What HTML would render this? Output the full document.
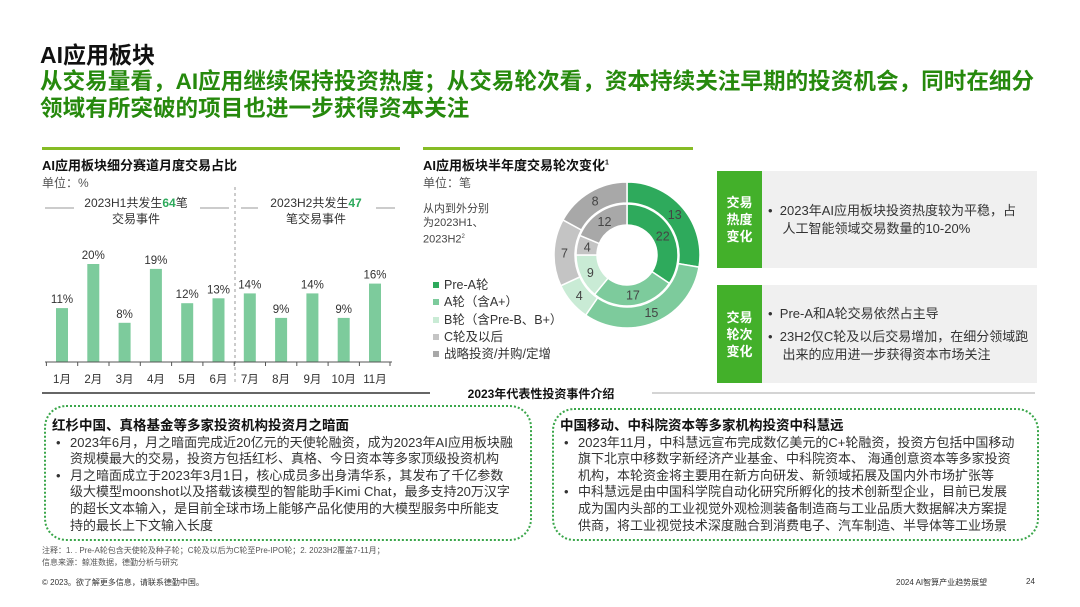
<!DOCTYPE html>
<html><head><meta charset="utf-8"><style>
body{margin:0;width:1080px;height:607px;overflow:hidden;background:#fff;font-family:"Liberation Sans","Noto Sans CJK SC",sans-serif;color:#222;position:relative}
.a{position:absolute;white-space:nowrap}
.g{color:#26890d}
.box{position:absolute;border:2px dotted #3aa64a;border-radius:22px}
.bt{font-size:13px;line-height:16.6px;color:#333}
.bt b{color:#111}
.li{padding-left:18px;position:relative}
.li:before{content:"•";position:absolute;left:4px}
</style></head><body>
<div class="a" style="left:40px;top:36px;font-size:23px;font-weight:bold;color:#111">AI应用板块</div>
<div class="a g" style="left:40px;top:68px;font-size:22.6px;font-weight:bold;line-height:27px">从交易量看，AI应用继续保持投资热度；从交易轮次看，资本持续关注早期的投资机会，同时在细分<br>领域有所突破的项目也进一步获得资本关注</div>

<div class="a" style="left:42px;top:147px;width:358px;height:3px;background:#86bc25"></div>
<div class="a" style="left:423px;top:147px;width:270px;height:3px;background:#86bc25"></div>
<div class="a" style="left:42px;top:155px;font-size:13px;font-weight:bold;color:#111">AI应用板块细分赛道月度交易占比</div>
<div class="a" style="left:42px;top:174px;font-size:12px;color:#555">单位：%</div>
<div class="a" style="left:423px;top:155px;font-size:13px;font-weight:bold;color:#111">AI应用板块半年度交易轮次变化<sup style="font-size:7px">1</sup></div>
<div class="a" style="left:423px;top:174px;font-size:12px;color:#555">单位：笔</div>
<div class="a" style="left:423px;top:202px;font-size:11px;color:#444;line-height:14px">从内到外分别<br>为2023H1、<br>2023H2<sup style="font-size:6px">2</sup></div>

<svg class="a" style="left:0;top:0" width="1080" height="607" font-family="Liberation Sans,Noto Sans CJK SC,sans-serif">
<g stroke="#999" stroke-width="1"><line x1="45" y1="208" x2="74" y2="208"/><line x1="200" y1="208" x2="229" y2="208"/><line x1="241" y1="208" x2="258" y2="208"/><line x1="376" y1="208" x2="395" y2="208"/></g>
<text x="136" y="207" font-size="12" text-anchor="middle" fill="#333">2023H1共发生<tspan fill="#2eaa5c" font-weight="bold">64</tspan>笔</text>
<text x="136" y="223" font-size="12" text-anchor="middle" fill="#333">交易事件</text>
<text x="316" y="207" font-size="12" text-anchor="middle" fill="#333">2023H2共发生<tspan fill="#2eaa5c" font-weight="bold">47</tspan></text>
<text x="316" y="223" font-size="12" text-anchor="middle" fill="#333">笔交易事件</text>
<line x1="235" y1="187" x2="235" y2="382" stroke="#999" stroke-dasharray="3,3"/>
<g id="bars"></g>
<line x1="45" y1="362" x2="392" y2="362" stroke="#555"/>
<line x1="42" y1="393" x2="430" y2="393" stroke="#333" stroke-width="1.5"/>
<line x1="652" y1="393" x2="1035" y2="393" stroke="#aaa" stroke-width="1"/>
<text x="541" y="398" font-size="12" font-weight="bold" text-anchor="middle" fill="#111">2023年代表性投资事件介绍</text>
<g id="donut"></g>
<g font-size="12.5" fill="#333" id="leg"></g>
</svg>

<div class="a" style="left:717px;top:171px;width:320px;height:97px;background:#f0f0f0"></div>
<div class="a" style="left:717px;top:171px;width:45px;height:97px;background:#43b02a;color:#fff;font-weight:bold;font-size:13px;line-height:17px;text-align:center;padding-top:23px;box-sizing:border-box;white-space:normal">交易<br>热度<br>变化</div>
<div class="a bt" style="left:768px;top:202px;line-height:18px">• &nbsp;2023年AI应用板块投资热度较为平稳，占<br>&nbsp; &nbsp; 人工智能领域交易数量的10-20%</div>
<div class="a" style="left:717px;top:285px;width:320px;height:98px;background:#f0f0f0"></div>
<div class="a" style="left:717px;top:285px;width:45px;height:98px;background:#43b02a;color:#fff;font-weight:bold;font-size:13px;line-height:17px;text-align:center;padding-top:24px;box-sizing:border-box">交易<br>轮次<br>变化</div>
<div class="a bt" style="left:768px;top:305px;line-height:18px">• &nbsp;Pre-A和A轮交易依然占主导</div>
<div class="a bt" style="left:768px;top:328px;line-height:18px">• &nbsp;23H2仅C轮及以后交易增加，在细分领域跑<br>&nbsp; &nbsp; 出来的应用进一步获得资本市场关注</div>

<div class="box" style="left:44px;top:405px;width:484px;height:132px"></div>
<div class="a bt" style="left:52px;top:418px">
<b style="font-size:13.5px">红杉中国、真格基金等多家投资机构投资月之暗面</b>
<div class="li">2023年6月，月之暗面完成近20亿元的天使轮融资，成为2023年AI应用板块融<br>资规模最大的交易，投资方包括红杉、真格、今日资本等多家顶级投资机构</div>
<div class="li">月之暗面成立于2023年3月1日，核心成员多出身清华系，其发布了千亿参数<br>级大模型moonshot以及搭载该模型的智能助手Kimi Chat，最多支持20万汉字<br>的超长文本输入，是目前全球市场上能够产品化使用的大模型服务中所能支<br>持的最长上下文输入长度</div></div>
<div class="box" style="left:552px;top:408px;width:483px;height:129px"></div>
<div class="a bt" style="left:560px;top:418px">
<b style="font-size:13.5px">中国移动、中科院资本等多家机构投资中科慧远</b>
<div class="li">2023年11月，中科慧远宣布完成数亿美元的C+轮融资，投资方包括中国移动<br>旗下北京中移数字新经济产业基金、中科院资本、 海通创意资本等多家投资<br>机构，本轮资金将主要用在新方向研发、新领域拓展及国内外市场扩张等</div>
<div class="li">中科慧远是由中国科学院自动化研究所孵化的技术创新型企业，目前已发展<br>成为国内头部的工业视觉外观检测装备制造商与工业品质大数据解决方案提<br>供商，将工业视觉技术深度融合到消费电子、汽车制造、半导体等工业场景</div></div>

<div class="a" style="left:42px;top:545px;font-size:8px;color:#555;line-height:12px">注释：1. . Pre-A轮包含天使轮及种子轮；C轮及以后为C轮至Pre-IPO轮；2. 2023H2覆盖7-11月；<br>信息来源：鲸准数据，德勤分析与研究</div>
<div class="a" style="left:42px;top:577px;font-size:8px;color:#333">© 2023。欲了解更多信息，请联系德勤中国。</div>
<div class="a" style="left:896px;top:577px;font-size:8px;color:#333">2024 AI智算产业趋势展望</div>
<div class="a" style="left:1026px;top:577px;font-size:8px;color:#333">24</div>

<script>
var NS="http://www.w3.org/2000/svg";
function el(p,t,a,txt){var e=document.createElementNS(NS,t);for(var k in a)e.setAttribute(k,a[k]);if(txt!=null)e.textContent=txt;p.appendChild(e);return e;}
var bars=document.getElementById('bars');
var v=[11,20,8,19,12,13,14,9,14,9,16],m=['1月','2月','3月','4月','5月','6月','7月','8月','9月','10月','11月'];
for(var i=0;i<11;i++){var cx=62+i*31.3,h=v[i]*4.9;
el(bars,'rect',{x:cx-6,y:362-h,width:12,height:h,fill:'#7dcb9c'});
el(bars,'text',{x:cx,y:362-h-5,'font-size':11.5,'text-anchor':'middle',fill:'#333'},v[i]+'%');
el(bars,'text',{x:cx,y:383,'font-size':11.5,'text-anchor':'middle',fill:'#333'},m[i]);
el(bars,'line',{x1:cx-15.6,y1:362,x2:cx-15.6,y2:366,stroke:'#555'});}
el(bars,'line',{x1:390,y1:362,x2:390,y2:366,stroke:'#555'});
var cols=['#2eaa5c','#7dcb9c','#c9ebd5','#c4c4c4','#a8a8a8'];
var d=document.getElementById('donut'),CX=627,CY=255;
function ring(vals,r0,r1){var tot=vals.reduce(function(a,b){return a+b},0),a=0;
vals.forEach(function(x,i){var a0=a/tot*2*Math.PI,a1=(a+x)/tot*2*Math.PI;a+=x;
function pt(r,t){return (CX+r*Math.sin(t)).toFixed(2)+' '+(CY-r*Math.cos(t)).toFixed(2)}
var lg=(a1-a0)>Math.PI?1:0;
el(d,'path',{d:'M'+pt(r1,a0)+'A'+r1+' '+r1+' 0 '+lg+' 1 '+pt(r1,a1)+'L'+pt(r0,a1)+'A'+r0+' '+r0+' 0 '+lg+' 0 '+pt(r0,a0)+'Z',fill:cols[i],stroke:'#fff','stroke-width':1.5});
var am=(a0+a1)/2,rm=(r0+r1)/2;
el(d,'text',{x:CX+rm*Math.sin(am),y:CY-rm*Math.cos(am)+4.5,'font-size':12.5,'text-anchor':'middle',fill:'#444'},x);});}
ring([22,17,9,4,12],30,51);ring([13,15,4,7,8],52,73);
var lg=document.getElementById('leg'),L=['Pre-A轮','A轮（含A+）','B轮（含Pre-B、B+）','C轮及以后','战略投资/并购/定增'],Y=[289,306,324,341,358];
for(i=0;i<5;i++){el(lg,'rect',{x:433,y:Y[i]-7,width:6,height:6,fill:cols[i]});el(lg,'text',{x:444,y:Y[i]},L[i]);}
</script>
</body></html>
